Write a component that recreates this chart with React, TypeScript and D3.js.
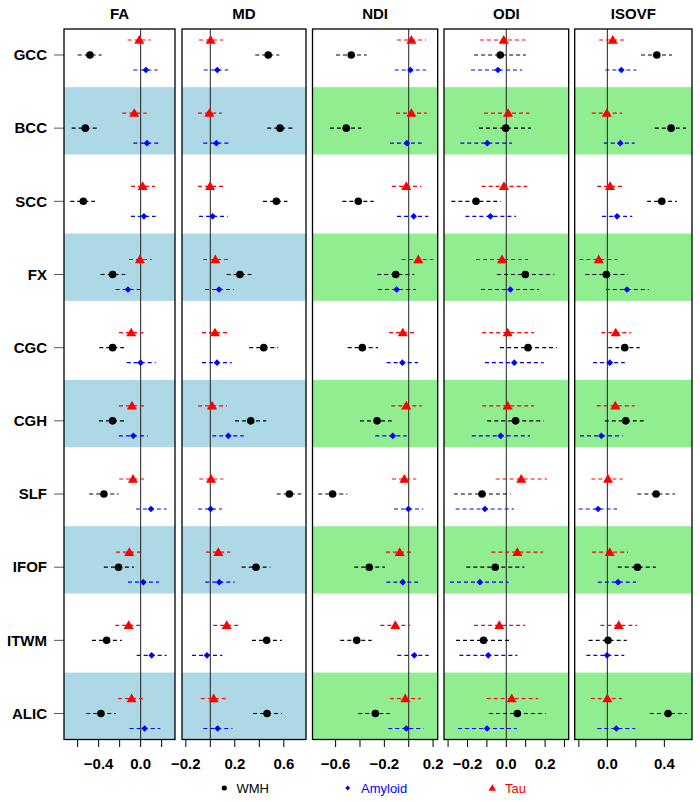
import React from "react";
import * as d3 from "d3";

const rows = ["GCC", "BCC", "SCC", "FX", "CGC", "CGH", "SLF", "IFOF", "ITWM", "ALIC"];
const panels = ["FA", "MD", "NDI", "ODI", "ISOVF"];

// [estimate, lower, upper]
const faTau = [[-0.013,-0.124,0.098],[-0.061,-0.175,0.057],[0.019,-0.092,0.136],[-0.007,-0.111,0.105],[-0.09,-0.207,0.025],[-0.083,-0.207,0.031],[-0.073,-0.204,0.031],[-0.108,-0.235,0],[-0.114,-0.242,-0.003],[-0.086,-0.216,0.025]];
const faWmh = [[-0.483,-0.6,-0.371],[-0.527,-0.657,-0.419],[-0.546,-0.67,-0.435],[-0.267,-0.381,-0.147],[-0.267,-0.394,-0.159],[-0.267,-0.397,-0.133],[-0.35,-0.49,-0.21],[-0.21,-0.35,-0.064],[-0.324,-0.464,-0.181],[-0.378,-0.518,-0.238]];
const faAmy = [[0.05,-0.07,0.162],[0.06,-0.07,0.168],[0.031,-0.092,0.143],[-0.121,-0.238,-0.007],[0,-0.133,0.143],[-0.07,-0.207,0.067],[0.098,-0.045,0.248],[0.025,-0.121,0.174],[0.105,-0.038,0.248],[0.038,-0.105,0.187]];

const mdTau = [[0.003,-0.092,0.106],[-0.008,-0.1,0.093],[-0.002,-0.1,0.104],[0.041,-0.06,0.144],[0.038,-0.068,0.136],[0.014,-0.1,0.136],[0.006,-0.09,0.106],[0.065,-0.035,0.163],[0.134,0.024,0.229],[0.028,-0.078,0.126]];
const mdWmh = [[0.473,0.367,0.563],[0.569,0.465,0.669],[0.539,0.43,0.629],[0.242,0.134,0.335],[0.436,0.318,0.553],[0.33,0.202,0.457],[0.645,0.542,0.743],[0.373,0.256,0.49],[0.46,0.34,0.583],[0.463,0.349,0.585]];
const mdAmy = [[0.057,-0.054,0.147],[0.049,-0.057,0.147],[0.019,-0.092,0.142],[0.071,-0.043,0.191],[0.055,-0.068,0.175],[0.147,0.016,0.273],[0.003,-0.1,0.096],[0.073,-0.041,0.199],[-0.027,-0.149,0.098],[0.06,-0.057,0.18]];

const ndiTau = [[0.022,-0.096,0.142],[0.022,-0.104,0.148],[-0.02,-0.137,0.104],[0.079,-0.058,0.202],[-0.049,-0.162,0.044],[-0.02,-0.143,0.107],[-0.036,-0.137,0.062],[-0.074,-0.187,0.044],[-0.11,-0.233,0.011],[-0.028,-0.154,0.099]];
const ndiWmh = [[-0.472,-0.597,-0.345],[-0.513,-0.647,-0.389],[-0.414,-0.545,-0.288],[-0.107,-0.258,0.046],[-0.381,-0.501,-0.252],[-0.26,-0.4,-0.14],[-0.625,-0.743,-0.504],[-0.324,-0.447,-0.195],[-0.427,-0.562,-0.304],[-0.274,-0.414,-0.154]];
const ndiAmy = [[0.014,-0.115,0.142],[-0.016,-0.154,0.107],[0.041,-0.096,0.161],[-0.099,-0.252,0.06],[-0.052,-0.181,0.076],[-0.131,-0.274,-0.016],[-0.003,-0.121,0.12],[-0.049,-0.184,0.076],[0.046,-0.094,0.164],[-0.02,-0.168,0.123]];

const odiTau = [[-0.013,-0.136,0.098],[0.009,-0.115,0.119],[-0.012,-0.127,0.107],[-0.022,-0.156,0.112],[0.007,-0.124,0.143],[0.007,-0.124,0.143],[0.077,-0.055,0.21],[0.057,-0.077,0.189],[-0.036,-0.166,0.098],[0.028,-0.101,0.165]];
const odiWmh = [[-0.031,-0.166,0.101],[-0.003,-0.141,0.127],[-0.156,-0.283,-0.027],[0.098,-0.048,0.247],[0.112,-0.032,0.26],[0.048,-0.098,0.193],[-0.125,-0.27,0.023],[-0.057,-0.206,0.093],[-0.117,-0.259,0.028],[0.057,-0.089,0.203]];
const odiAmy = [[-0.043,-0.182,0.082],[-0.098,-0.237,0.029],[-0.082,-0.211,0.05],[0.021,-0.13,0.17],[0.041,-0.11,0.193],[-0.029,-0.178,0.122],[-0.11,-0.261,0.04],[-0.136,-0.29,0.012],[-0.093,-0.242,0.057],[-0.099,-0.249,0.053]];

const isoTau = [[0.038,-0.058,0.14],[-0.004,-0.109,0.103],[0.019,-0.072,0.103],[-0.06,-0.196,0.07],[0.059,-0.042,0.166],[0.056,-0.074,0.192],[0.005,-0.112,0.108],[0.017,-0.107,0.145],[0.08,-0.049,0.208],[0,-0.116,0.103]];
const isoWmh = [[0.347,0.236,0.454],[0.447,0.333,0.552],[0.382,0.279,0.487],[-0.007,-0.154,0.143],[0.122,0.007,0.227],[0.129,-0.018,0.276],[0.342,0.211,0.475],[0.211,0.073,0.34],[0.005,-0.131,0.136],[0.426,0.298,0.557]];
const isoAmy = [[0.098,-0.014,0.204],[0.091,-0.025,0.192],[0.068,-0.037,0.175],[0.138,-0.011,0.291],[0.017,-0.1,0.122],[-0.042,-0.192,0.108],[-0.065,-0.201,0.068],[0.075,-0.067,0.201],[-0.002,-0.147,0.119],[0.063,-0.07,0.196]];

const faTicks = [-0.6, -0.4, -0.2, 0, 0.2];
const faLabels = [-0.4, 0];
const mdTicks = [-0.2, 0, 0.2, 0.4, 0.6];
const mdLabels = [-0.2, 0.2, 0.6];
const ndiTicks = [-0.6, -0.4, -0.2, 0, 0.2];
const ndiLabels = [-0.6, -0.2, 0.2];
const odiTicks = [-0.3, -0.2, -0.1, 0, 0.1, 0.2, 0.3];
const odiLabels = [-0.2, 0, 0.2];
const isoTicks = [-0.2, 0, 0.2, 0.4];
const isoLabels = [0, 0.4];

const faDomain = [-0.73, 0.327];
const mdDomain = [-0.231, 0.781];
const ndiDomain = [-0.79, 0.238];
const odiDomain = [-0.321, 0.3216];
const isoDomain = [-0.229, 0.594];

const seriesNames = ["WMH", "Amyloid", "Tau"];

const FONT = "'Liberation Sans', Arial, Helvetica, sans-serif";

type P = {
  name: string;
  range: [number, number];
  domain: number[];
  ticks: number[];
  labels: number[];
  tau: number[][];
  wmh: number[][];
  amy: number[][];
  band: string;
};

const panelDefs: P[] = [
  { name: panels[0], range: [64, 175], domain: faDomain, ticks: faTicks, labels: faLabels, tau: faTau, wmh: faWmh, amy: faAmy, band: "#ADD8E6" },
  { name: panels[1], range: [182, 306], domain: mdDomain, ticks: mdTicks, labels: mdLabels, tau: mdTau, wmh: mdWmh, amy: mdAmy, band: "#ADD8E6" },
  { name: panels[2], range: [312.5, 437.7], domain: ndiDomain, ticks: ndiTicks, labels: ndiLabels, tau: ndiTau, wmh: ndiWmh, amy: ndiAmy, band: "#90EE90" },
  { name: panels[3], range: [444, 568.7], domain: odiDomain, ticks: odiTicks, labels: odiLabels, tau: odiTau, wmh: odiWmh, amy: odiAmy, band: "#90EE90" },
  { name: panels[4], range: [574.7, 692], domain: isoDomain, ticks: isoTicks, labels: isoLabels, tau: isoTau, wmh: isoWmh, amy: isoAmy, band: "#90EE90" },
];

const TOP = 29;
const BOTTOM = 739.5;
const y = d3.scaleLinear().domain([-0.355, 9.355]).range([TOP, BOTTOM]);
const OFF = 0.205;

const fmt = (v: number) => (Math.abs(v) < 1e-9 ? "0.0" : d3.format(".1f")(v));

const squareDiamond = {
  draw(ctx: any, size: number) {
    const r = Math.sqrt(size / 2);
    ctx.moveTo(0, -r);
    ctx.lineTo(r, 0);
    ctx.lineTo(0, r);
    ctx.lineTo(-r, 0);
    ctx.closePath();
  },
};

const triPath = d3.symbol().type(d3.symbolTriangle).size(44)();
const diaPath = d3.symbol().type(squareDiamond).size(22)();
const triSmall = d3.symbol().type(d3.symbolTriangle).size(24)();
const diaSmall = d3.symbol().type(squareDiamond).size(12)();

function Panel({ p }: { p: P }) {
  const x = d3.scaleLinear().domain(p.domain).range(p.range);
  const [x0, x1] = p.range;
  const series = [
    { data: p.tau, off: -OFF, color: "#FF0000", kind: "tri" },
    { data: p.wmh, off: 0, color: "#000000", kind: "circ" },
    { data: p.amy, off: OFF, color: "#0000FF", kind: "dia" },
  ];
  return (
    <g>
      {rows.map((r, i) =>
        i % 2 === 1 ? (
          <rect
            key={r}
            x={x0}
            width={x1 - x0}
            y={y(Math.max(i - 0.56, -0.355))}
            height={y(Math.min(i + 0.36, 9.355)) - y(Math.max(i - 0.56, -0.355))}
            fill={p.band}
          />
        ) : null
      )}
      <line x1={x(0)} x2={x(0)} y1={TOP} y2={BOTTOM} stroke="#222" strokeWidth={1} />
      {series.map((s, si) =>
        s.data.map((d, i) => (
          <line
            key={`l${si}-${i}`}
            x1={x(d[1])}
            x2={x(d[2])}
            y1={y(i + s.off)}
            y2={y(i + s.off)}
            stroke={s.color}
            strokeWidth={1.2}
            strokeDasharray="4,3"
          />
        ))
      )}
      {series.map((s, si) =>
        s.data.map((d, i) => {
          const cx = x(d[0]);
          const cy = y(i + s.off);
          if (s.kind === "circ") return <circle key={`m${si}-${i}`} cx={cx} cy={cy} r={3.8} fill={s.color} />;
          if (s.kind === "tri")
            return <path key={`m${si}-${i}`} d={triPath} transform={`translate(${cx},${cy + 0.8})`} fill={s.color} />;
          return <path key={`m${si}-${i}`} d={diaPath} transform={`translate(${cx},${cy})`} fill={s.color} />;
        })
      )}
      <rect x={x0} y={TOP} width={x1 - x0} height={BOTTOM - TOP} fill="none" stroke="#000" strokeWidth={1.3} />
      <text x={(x0 + x1) / 2} y={18.5} textAnchor="middle" fontFamily={FONT} fontWeight="bold" fontSize={15}>
        {p.name}
      </text>
      <line x1={x(p.ticks[0])} x2={x(p.ticks[p.ticks.length - 1])} y1={BOTTOM} y2={BOTTOM} stroke="#000" strokeWidth={1} />
      {p.ticks.map((t) => (
        <line key={`t${t}`} x1={x(t)} x2={x(t)} y1={BOTTOM} y2={747} stroke="#000" strokeWidth={1} />
      ))}
      {p.labels.map((t) => (
        <text key={`tl${t}`} x={x(t)} y={768.5} textAnchor="middle" fontFamily={FONT} fontWeight="bold" fontSize={15}>
          {fmt(t)}
        </text>
      ))}
    </g>
  );
}

export default function App() {
  return (
    <svg
      width={700}
      height={802}
      style={{ position: "absolute", left: 0, top: 0, background: "#fff" }}
    >
      <rect width={700} height={802} fill="#fff" />
      {rows.map((r, i) => (
        <g key={r}>
          <line x1={54} x2={64} y1={y(i)} y2={y(i)} stroke="#555" strokeWidth={1} />
          <text x={47} y={y(i) + 5.3} textAnchor="end" fontFamily={FONT} fontWeight="bold" fontSize={15}>
            {r}
          </text>
        </g>
      ))}
      {panelDefs.map((p) => (
        <Panel key={p.name} p={p} />
      ))}
      <g fontFamily={FONT} fontSize={13}>
        <circle cx={224.3} cy={788} r={2.6} fill="#000" />
        <text x={236.5} y={792.5} fill="#000">{seriesNames[0]}</text>
        <path d={diaSmall} transform="translate(347.7,788)" fill="#0000FF" />
        <text x={361} y={792.5} fill="#0000FF">{seriesNames[1]}</text>
        <path d={triSmall} transform="translate(492.3,788.5)" fill="#FF0000" />
        <text x={505} y={792.5} fill="#FF0000">{seriesNames[2]}</text>
      </g>
    </svg>
  );
}
